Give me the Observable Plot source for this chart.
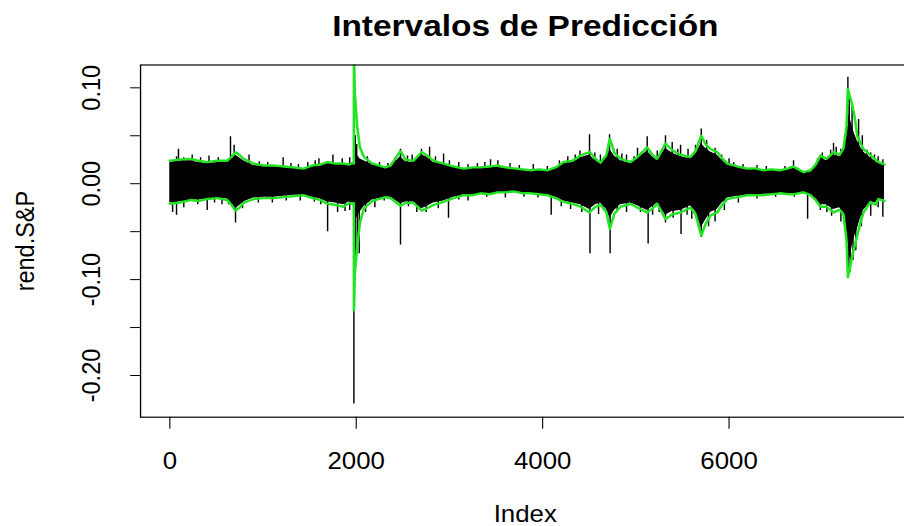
<!DOCTYPE html>
<html><head><meta charset="utf-8">
<script src="https://cdn.jsdelivr.net/npm/d3@7"></script>
<script src="https://cdn.jsdelivr.net/npm/@observablehq/plot@0.6"></script>
<style>
html,body{margin:0;padding:0;background:#fff;}
#chart{width:904px;height:526px;overflow:hidden;}
</style>
</head><body><div id="chart"></div>
<script>
// ---- texts ----
const title = "Intervalos de Predicción";
const xLabel = "Index";
const yLabel = "rend.S&P";
const xTicks = [0, 2000, 4000, 6000];
const xTickLabels = ["0", "2000", "4000", "6000"];
const yTicks = [-0.20, -0.15, -0.10, -0.05, 0.00, 0.05, 0.10];
const yLabelTicks = [0.10, 0.00, -0.10, -0.20];
const yLabelTexts = ["0.10", "0.00", "-0.10", "-0.20"];

// ---- envelope of the series and prediction interval ----
const bandIndex = [0,93,222,308,401,509,616,662,705,748,791,898,1005,1113,1220,1327,1434,1531,1617,1690,1776,1862,1926,1966,1974,1976,1985,2011,2039,2082,2172,2314,2369,2475,2529,2615,2701,2754,2829,2937,3044,3151,3248,3334,3431,3517,3603,3689,3786,3872,3958,4053,4139,4225,4321,4407,4503,4567,4621,4685,4721,4771,4836,4943,5018,5122,5179,5230,5318,5390,5480,5587,5641,5702,5748,5802,5873,5920,5981,6091,6195,6284,6370,6456,6552,6638,6692,6800,6875,6929,6982,7046,7121,7186,7228,7261,7275,7293,7322,7347,7375,7411,7443,7518,7572,7604,7668];
const greenUpper = [0.024,0.025,0.026,0.024,0.0225,0.024,0.024,0.028,0.033,0.030,0.026,0.021,0.019,0.019,0.018,0.017,0.0157,0.019,0.020,0.0226,0.021,0.021,0.020,0.022,0.021,0.134,0.094,0.059,0.038,0.028,0.021,0.017,0.019,0.034,0.025,0.024,0.033,0.030,0.024,0.021,0.018,0.0157,0.017,0.017,0.018,0.019,0.017,0.016,0.015,0.014,0.015,0.014,0.017,0.0226,0.024,0.0295,0.033,0.026,0.022,0.030,0.047,0.032,0.026,0.0226,0.028,0.038,0.030,0.026,0.042,0.035,0.030,0.028,0.034,0.050,0.041,0.036,0.033,0.027,0.021,0.018,0.0157,0.016,0.014,0.015,0.014,0.016,0.018,0.012,0.014,0.020,0.0295,0.026,0.033,0.030,0.037,0.060,0.099,0.092,0.082,0.070,0.050,0.042,0.036,0.0295,0.025,0.0226,0.020];
const greenLower = [-0.021,-0.020,-0.017,-0.018,-0.016,-0.015,-0.017,-0.022,-0.028,-0.025,-0.020,-0.016,-0.015,-0.015,-0.014,-0.013,-0.012,-0.015,-0.017,-0.021,-0.022,-0.024,-0.020,-0.021,-0.020,-0.132,-0.094,-0.066,-0.041,-0.026,-0.018,-0.014,-0.015,-0.023,-0.020,-0.020,-0.028,-0.026,-0.022,-0.019,-0.015,-0.012,-0.012,-0.010,-0.011,-0.009,-0.009,-0.008,-0.010,-0.010,-0.011,-0.012,-0.015,-0.019,-0.021,-0.024,-0.030,-0.024,-0.022,-0.030,-0.047,-0.031,-0.024,-0.021,-0.025,-0.030,-0.026,-0.021,-0.037,-0.032,-0.030,-0.025,-0.032,-0.054,-0.042,-0.033,-0.030,-0.023,-0.016,-0.014,-0.012,-0.012,-0.012,-0.011,-0.010,-0.011,-0.011,-0.009,-0.012,-0.017,-0.024,-0.024,-0.030,-0.027,-0.032,-0.060,-0.0975,-0.090,-0.075,-0.065,-0.054,-0.040,-0.030,-0.019,-0.022,-0.016,-0.018];
const blackUpper = [0.022,0.024,0.024,0.022,0.021,0.022,0.022,0.026,0.030,0.027,0.024,0.019,0.018,0.018,0.017,0.016,0.015,0.018,0.019,0.021,0.020,0.020,0.019,0.021,0.022,0.030,0.034,0.030,0.026,0.024,0.020,0.016,0.018,0.028,0.023,0.022,0.030,0.028,0.022,0.020,0.017,0.015,0.016,0.016,0.017,0.017,0.016,0.015,0.014,0.013,0.014,0.013,0.016,0.021,0.022,0.027,0.030,0.024,0.021,0.027,0.036,0.029,0.024,0.021,0.026,0.034,0.028,0.024,0.037,0.032,0.028,0.026,0.031,0.042,0.037,0.033,0.030,0.025,0.020,0.017,0.015,0.015,0.013,0.014,0.013,0.015,0.016,0.012,0.013,0.019,0.027,0.024,0.030,0.028,0.034,0.050,0.075,0.070,0.060,0.052,0.045,0.038,0.033,0.027,0.023,0.021,0.019];
const blackLower = [-0.020,-0.019,-0.017,-0.017,-0.016,-0.015,-0.016,-0.021,-0.026,-0.023,-0.019,-0.015,-0.014,-0.014,-0.013,-0.012,-0.012,-0.014,-0.016,-0.019,-0.020,-0.022,-0.019,-0.020,-0.022,-0.045,-0.040,-0.035,-0.030,-0.024,-0.017,-0.014,-0.014,-0.021,-0.019,-0.019,-0.026,-0.024,-0.020,-0.018,-0.014,-0.012,-0.012,-0.010,-0.011,-0.009,-0.009,-0.008,-0.010,-0.010,-0.011,-0.012,-0.014,-0.018,-0.020,-0.022,-0.027,-0.022,-0.020,-0.027,-0.036,-0.028,-0.022,-0.020,-0.023,-0.028,-0.024,-0.020,-0.033,-0.029,-0.028,-0.023,-0.029,-0.046,-0.038,-0.030,-0.027,-0.021,-0.015,-0.013,-0.012,-0.012,-0.011,-0.011,-0.010,-0.011,-0.011,-0.009,-0.012,-0.016,-0.022,-0.022,-0.027,-0.025,-0.030,-0.055,-0.085,-0.080,-0.065,-0.055,-0.048,-0.036,-0.028,-0.019,-0.020,-0.016,-0.017];

// ---- isolated large returns (spikes) ----
const spikeIndex = [72,93,150,240,330,420,520,651,690,850,960,1050,1216,1300,1380,1480,1560,1600,1750,1850,1930,1976,1990,2005,2120,2250,2340,2420,2475,2550,2600,2700,2787,2850,2937,3000,3100,3200,3300,3380,3441,3520,3650,3750,3900,4050,4180,4270,4350,4400,4503,4560,4620,4718,4800,4850,4900,4980,5018,5060,5122,5230,5318,5390,5450,5480,5560,5640,5702,5760,5850,5920,6000,6050,6150,6300,6400,6600,6692,6950,7000,7090,7121,7150,7200,7275,7290,7320,7390,7430,7480,7520,7560,7600,7650,
  30,72,150,300,401,480,560,630,705,780,950,1100,1250,1400,1550,1620,1693,1800,1880,1930,1975,1990,2011,2032,2100,2200,2300,2475,2560,2650,2750,2880,2990,3100,3200,3400,3600,3800,3950,4092,4200,4300,4420,4508,4600,4650,4724,4800,4900,5050,5132,5180,5250,5318,5400,5485,5550,5600,5702,5780,5850,5950,6100,6300,6500,6700,6843,6980,7050,7100,7200,7280,7300,7330,7360,7420,7520,7600,7650];
const spikeValue = [0.028,0.036,0.027,0.030,0.027,0.029,0.027,0.049,0.040,0.030,0.023,0.022,0.027,0.021,0.020,0.022,0.024,0.026,0.030,0.026,0.027,0.087,0.050,0.041,0.028,0.022,0.021,0.027,0.036,0.029,0.030,0.036,0.038,0.028,0.031,0.024,0.022,0.020,0.021,0.022,0.025,0.024,0.021,0.019,0.020,0.018,0.024,0.028,0.030,0.034,0.051,0.032,0.030,0.051,0.036,0.031,0.030,0.028,0.037,0.032,0.049,0.034,0.050,0.043,0.036,0.040,0.036,0.040,0.057,0.045,0.037,0.030,0.026,0.022,0.020,0.019,0.018,0.018,0.024,0.026,0.032,0.035,0.042,0.038,0.036,0.111,0.094,0.080,0.067,0.050,0.035,0.032,0.030,0.028,0.025,
  -0.030,-0.033,-0.025,-0.022,-0.028,-0.020,-0.022,-0.022,-0.041,-0.026,-0.020,-0.020,-0.018,-0.018,-0.019,-0.022,-0.050,-0.030,-0.029,-0.028,-0.2297,-0.080,-0.070,-0.073,-0.030,-0.025,-0.018,-0.064,-0.024,-0.030,-0.030,-0.026,-0.036,-0.017,-0.018,-0.014,-0.015,-0.014,-0.015,-0.033,-0.024,-0.027,-0.030,-0.073,-0.032,-0.027,-0.073,-0.030,-0.030,-0.030,-0.063,-0.033,-0.030,-0.041,-0.036,-0.053,-0.033,-0.037,-0.056,-0.045,-0.040,-0.028,-0.020,-0.016,-0.014,-0.014,-0.037,-0.028,-0.030,-0.034,-0.040,-0.088,-0.092,-0.080,-0.070,-0.045,-0.034,-0.025,-0.035];

// ---- layout (the picture is slightly stretched horizontally) ----
const W = 904, H = 526, stretch = 1.1;
const W0 = W / stretch;
const GREEN = "#22e422";

const band = bandIndex.map((x, i) => ({x, gu: greenUpper[i], gl: greenLower[i], bu: blackUpper[i], bl: blackLower[i]}));
const spikes = spikeIndex.map((x, i) => ({x, v: spikeValue[i]}));

const chart = Plot.plot({
  width: W0, height: H,
  marginLeft: 140 / stretch, marginRight: -5, marginTop: 64.5, marginBottom: 109.3,
  style: {fontFamily: "'Liberation Sans', Arial, sans-serif", fontSize: "23.5px", color: "#000", background: "#fff", overflow: "hidden"},
  x: {domain: [-314, 7942], ticks: xTicks, tickFormat: d => xTickLabels[xTicks.indexOf(d)], tickSize: 12, tickPadding: 23, label: null},
  y: {domain: [-0.2435, 0.1238], ticks: yTicks, tickFormat: () => "", tickSize: 9, label: null},
  marks: [
    Plot.areaY(band, {x: "x", y1: "bl", y2: "bu", fill: "#000"}),
    Plot.ruleX(spikes, {x: "x", y1: 0, y2: "v", stroke: "#000", strokeWidth: 1.3, clip: true}),
    Plot.line(band, {x: "x", y: "gu", stroke: GREEN, strokeWidth: 2.4, strokeDasharray: "5,1.5", clip: true}),
    Plot.line(band, {x: "x", y: "gl", stroke: GREEN, strokeWidth: 2.4, strokeDasharray: "5,1.5", clip: true}),
    Plot.frame({stroke: "#000", strokeWidth: 1.2}),
    Plot.text(yLabelTicks, {y: d => d, text: (d, i) => yLabelTexts[i], frameAnchor: "left", textAnchor: "middle", lineAnchor: "middle", dx: -44, rotate: -90, fill: "#000"}),
    Plot.text([yLabel], {frameAnchor: "left", textAnchor: "middle", lineAnchor: "middle", dx: -104.5, rotate: -90, fill: "#000"}),
    Plot.text([title], {frameAnchor: "top", dy: -29.5, lineAnchor: "bottom", fontWeight: "bold", fontSize: 30.4, fill: "#000"}),
    Plot.text([xLabel], {frameAnchor: "bottom", dy: 105, lineAnchor: "bottom", fill: "#000"})
  ]
});

chart.setAttribute("width", W);
chart.setAttribute("height", H);
chart.setAttribute("viewBox", `0 0 ${W0} ${H}`);
chart.setAttribute("preserveAspectRatio", "none");
chart.style.width = W + "px";
chart.style.height = H + "px";
chart.style.maxWidth = "none";
document.getElementById("chart").appendChild(chart);
</script>
</body></html>
